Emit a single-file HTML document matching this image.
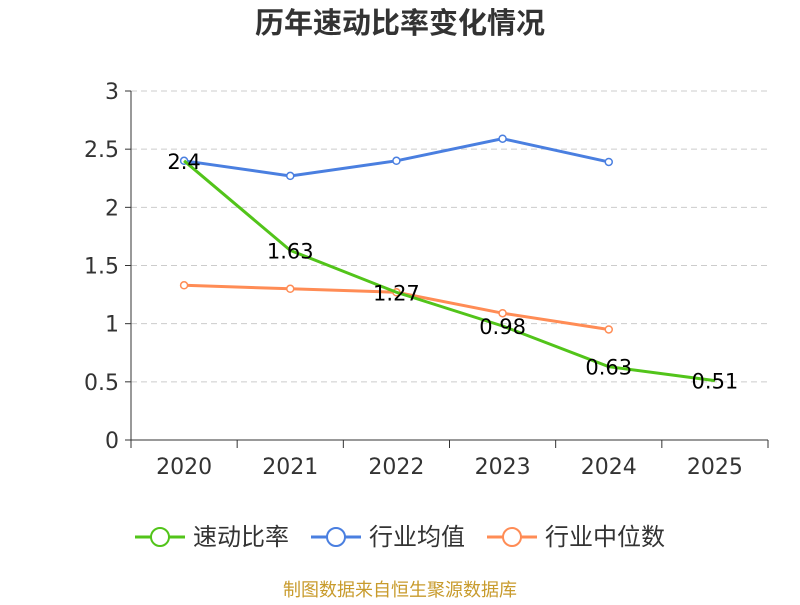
<!DOCTYPE html>
<html><head><meta charset="utf-8"><style>
body{margin:0;background:#fff;}
svg text{font-family:"DejaVu Sans","Noto Sans CJK SC",sans-serif;}
</style></head><body>
<svg id="chart" width="800" height="600" xmlns="http://www.w3.org/2000/svg">
<text x="400" y="33" text-anchor="middle" font-size="29" font-weight="bold" fill="#333">历年速动比率变化情况</text>
<g id="grid"></g><g id="axes"></g><g id="series"></g><g id="labels"></g>
<g id="legend"></g>
<text x="400" y="596" text-anchor="middle" font-size="18" fill="#c89b2c">制图数据来自恒生聚源数据库</text>
</svg>
<script>
const categories=["2020","2021","2022","2023","2024","2025"];
const quickRatio=[2.4,1.63,1.27,0.98,0.63,0.51];
const industryAvg=[2.4,2.27,2.4,2.59,2.39];
const industryMedian=[1.33,1.30,1.27,1.09,0.95];
const yTicks=[0,0.5,1,1.5,2,2.5,3];
const NS="http://www.w3.org/2000/svg";
const x0=131,x1=768,y0=440,yTop=91,yMax=3;
const bw=(x1-x0)/categories.length;
const xs=i=>x0+bw*(i+0.5);
const ys=v=>y0-(v/yMax)*(y0-yTop);
function mk(tag,attrs,parent,text){const e=document.createElementNS(NS,tag);for(const k in attrs)e.setAttribute(k,attrs[k]);if(text!==undefined)e.textContent=text;document.getElementById(parent).appendChild(e);return e;}
yTicks.forEach(t=>{const y=ys(t);
 if(t>0){const g=mk('line',{x1:x0,x2:x1,y1:y,y2:y,stroke:'#ccc','stroke-dasharray':'6,4'},'grid');}
 const tk=mk('line',{x1:x0-6,x2:x0,y1:y,y2:y,stroke:'#333'},'axes');
 const l=mk('text',{x:x0-12,y:y+8,'text-anchor':'end','font-size':22,fill:'#333'},'axes',String(t));
});
let a=mk('line',{x1:x0,x2:x0,y1:yTop,y2:y0,stroke:'#333'},'axes');
a=mk('line',{x1:x0,x2:x1,y1:y0,y2:y0,stroke:'#333'},'axes');
for(let i=0;i<=categories.length;i++){const t=mk('line',{x1:x0+bw*i,x2:x0+bw*i,y1:y0,y2:y0+8,stroke:'#333'},'axes');}
categories.forEach((c,i)=>{const l=mk('text',{x:xs(i),y:474,'text-anchor':'middle','font-size':22,fill:'#333'},'axes',c);});
function series(vals,color,name,markers){
 const p=mk('polyline',{points:vals.map((v,i)=>xs(i)+','+ys(v)).join(' '),fill:'none',stroke:color,'stroke-width':3},'series');
 
 if(markers)vals.forEach((v,i)=>{const c=mk('circle',{cx:xs(i),cy:ys(v),r:3.5,fill:'#fff',stroke:color,'stroke-width':1.5},'series');});
}
series(industryAvg,'#4a7fe0','industry-average',true);
series(industryMedian,'#ff8c55','industry-median',true);
series(quickRatio,'#52c41a','quick-ratio',false);
quickRatio.forEach((v,i)=>{const l=mk('text',{x:xs(i),y:ys(v)+8,'text-anchor':'middle','font-size':21,fill:'#000'},'labels',String(v));});
const leg=[["速动比率","#52c41a",135],["行业均值","#4a7fe0",311],["行业中位数","#ff8c55",487]];
leg.forEach(([n,c,x])=>{
 const g=mk('g',{},'legend');
 const ln=document.createElementNS(NS,'line');[['x1',x],['x2',x+50],['y1',537],['y2',537],['stroke',c],['stroke-width',3]].forEach(([k,v])=>ln.setAttribute(k,v));g.appendChild(ln);
 const ci=document.createElementNS(NS,'circle');[['cx',x+25],['cy',537],['r',9],['fill','#fff'],['stroke',c],['stroke-width',2]].forEach(([k,v])=>ci.setAttribute(k,v));g.appendChild(ci);
 const t=document.createElementNS(NS,'text');[['x',x+58],['y',545],['font-size',24],['fill','#333']].forEach(([k,v])=>t.setAttribute(k,v));t.textContent=n;g.appendChild(t);
});
</script>
</body></html>
